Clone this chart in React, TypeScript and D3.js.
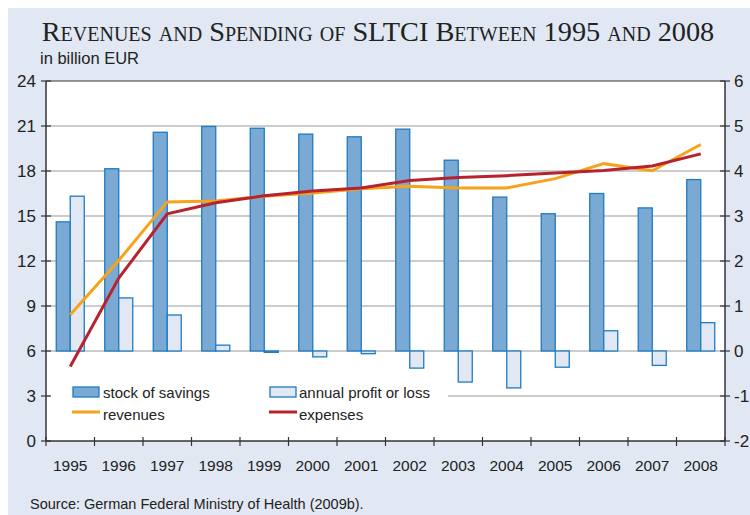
import React from "react";
import * as d3 from "d3";

const years = ["1995", "1996", "1997", "1998", "1999", "2000", "2001", "2002", "2003", "2004", "2005", "2006", "2007", "2008"];
// right axis (billion EUR)
const savings = [2.87, 4.05, 4.86, 4.99, 4.95, 4.82, 4.76, 4.93, 4.24, 3.42, 3.05, 3.5, 3.18, 3.81];
const profit = [3.44, 1.18, 0.8, 0.13, -0.03, -0.13, -0.06, -0.38, -0.69, -0.82, -0.36, 0.45, -0.32, 0.63];
// left axis (billion EUR)
const revenues = [8.41, 12.04, 15.94, 16.0, 16.32, 16.54, 16.81, 16.98, 16.86, 16.87, 17.49, 18.49, 18.02, 19.77];
const expenses = [4.97, 10.86, 15.14, 15.88, 16.35, 16.67, 16.87, 17.36, 17.56, 17.69, 17.86, 18.03, 18.34, 19.14];
const leftTicks = [0, 3, 6, 9, 12, 15, 18, 21, 24];
const rightTicks = [-2, -1, 0, 1, 2, 3, 4, 5, 6];

const W = 750;
const H = 515;
const m = { left: 46, right: 725, top: 81, bottom: 441 };

const darkFill = "#7aaad4";
const lightFill = "#e1e8f3";
const barStroke = "#1f7bc2";
const orange = "#f7a21b";
const red = "#b7222f";
const axisCol = "#333";
const gridCol = "#9a9a9a";
const sans = "'Liberation Sans', Arial, sans-serif";

export default function App() {
    const x = d3.scaleBand().domain(years).range([m.left, m.right]).padding(0);
    const yL = d3.scaleLinear().domain([0, 24]).range([m.bottom, m.top]);
    const yR = d3.scaleLinear().domain([-2, 6]).range([m.bottom, m.top]);
    const cx = (i: number) => (x(years[i]) ?? 0) + x.bandwidth() / 2;
    const barW = 14;

    const line = d3
        .line<number>()
        .x((_, i) => cx(i))
        .y((d) => yL(d));

    const boundaries = years.map((y) => x(y) ?? 0).concat([m.right]);

    return (
        <svg width={W} height={H} style={{ position: "absolute", left: 0, top: 0 }}>
            <rect x={8} y={8} width={W - 8} height={H - 8} fill="#e1e8f3" />
            <text x={378} y={41} textAnchor="middle" fontFamily="'Liberation Serif', 'Times New Roman', serif"
                fontSize={28.3} fontVariant="small-caps" fill="#222">
                Revenues and Spending of SLTCI Between 1995 and 2008
            </text>
            <text x={40} y={64} fontFamily={sans} fontSize={16.5} fill="#222">in billion EUR</text>

            <rect x={m.left} y={m.top} width={m.right - m.left} height={m.bottom - m.top} fill="#fff" />

            {leftTicks.filter((t) => t > 0 && t < 24).map((t) => (
                <line key={t} x1={m.left} x2={m.right} y1={yL(t)} y2={yL(t)} stroke={gridCol} strokeWidth={1.2} />
            ))}

            {/* legend box hides gridline */}
            <rect x={50} y={376} width={398} height={52} fill="#fff" />

            {years.map((y, i) => {
                const c = cx(i);
                const p = profit[i];
                return (
                    <g key={y}>
                        <rect x={c - barW} y={yR(savings[i])} width={barW} height={yR(0) - yR(savings[i])}
                            fill={darkFill} stroke={barStroke} strokeWidth={1.3} />
                        <rect x={c} y={yR(Math.max(p, 0))} width={barW} height={Math.abs(yR(p) - yR(0))}
                            fill={lightFill} stroke={barStroke} strokeWidth={1.3} />
                    </g>
                );
            })}

            <path d={line(revenues) ?? ""} fill="none" stroke={orange} strokeWidth={3} />
            <path d={line(expenses) ?? ""} fill="none" stroke={red} strokeWidth={3} />

            {/* legend */}
            <g fontFamily={sans} fontSize={15} fill="#222">
                <rect x={73} y={387} width={26} height={10} fill={darkFill} stroke={barStroke} strokeWidth={1.3} />
                <text x={103} y={398}>stock of savings</text>
                <rect x={270} y={387} width={26} height={10} fill={lightFill} stroke={barStroke} strokeWidth={1.3} />
                <text x={299} y={398}>annual profit or loss</text>
                <line x1={72} x2={100} y1={412} y2={412} stroke={orange} strokeWidth={3} />
                <text x={103} y={420}>revenues</text>
                <line x1={269} x2={297} y1={412} y2={412} stroke={red} strokeWidth={3} />
                <text x={299} y={420}>expenses</text>
            </g>

            {/* axes */}
            <line x1={m.left} x2={m.left} y1={m.top} y2={m.bottom} stroke={axisCol} strokeWidth={1.5} />
            <line x1={m.right} x2={m.right} y1={m.top} y2={m.bottom} stroke={axisCol} strokeWidth={1.5} />
            <line x1={m.left} x2={m.right} y1={m.bottom} y2={m.bottom} stroke={axisCol} strokeWidth={1.5} />
            <line x1={m.left} x2={m.right} y1={m.top} y2={m.top} stroke={axisCol} strokeWidth={1} />

            {leftTicks.map((t) => (
                <g key={t}>
                    <line x1={m.left - 5} x2={m.left + 5} y1={yL(t)} y2={yL(t)} stroke={axisCol} strokeWidth={1.2} />
                    <text x={36} y={yL(t) + 6} textAnchor="end" fontFamily={sans} fontSize={17} fill="#222">{t}</text>
                </g>
            ))}
            {rightTicks.map((t) => (
                <g key={t}>
                    <line x1={m.right - 5} x2={m.right + 5} y1={yR(t)} y2={yR(t)} stroke={axisCol} strokeWidth={1.2} />
                    <text x={734} y={yR(t) + 6} fontFamily={sans} fontSize={17} fill="#222">{t}</text>
                </g>
            ))}
            {boundaries.map((b, i) => (
                <line key={i} x1={b} x2={b} y1={m.bottom - 4} y2={m.bottom + 5} stroke={axisCol} strokeWidth={1.2} />
            ))}
            {years.map((y, i) => (
                <text key={y} x={cx(i)} y={471} textAnchor="middle" fontFamily={sans} fontSize={15.5} fill="#222">{y}</text>
            ))}

            <text x={30} y={509} fontFamily={sans} fontSize={14.5} fill="#222">
                Source: German Federal Ministry of Health (2009b).
            </text>
        </svg>
    );
}
